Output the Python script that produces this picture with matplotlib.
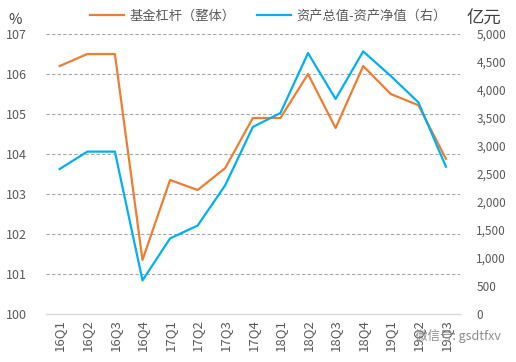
import matplotlib
matplotlib.use("Agg")
import matplotlib.pyplot as plt
import numpy as np

plt.rcParams['font.family'] = ['Noto Sans CJK SC', 'DejaVu Sans']

# -- data --
quarters = ["16Q1", "16Q2", "16Q3", "16Q4", "17Q1", "17Q2", "17Q3", "17Q4",
            "18Q1", "18Q2", "18Q3", "18Q4", "19Q1", "19Q2", "19Q3"]
leverage = [106.2, 106.5, 106.5, 101.35, 103.35, 103.1, 103.65, 104.9,
            104.9, 106.0, 104.65, 106.2, 105.5, 105.22, 103.88]
debt = [2590, 2900, 2900, 600, 1350, 1580, 2300, 3340,
        3590, 4660, 3840, 4690, 4250, 3780, 2630]

ORANGE = "#ED7D31"
BLUE = "#00B0F0"
GREY = "#595959"

fig = plt.figure(figsize=(5.16, 3.62), dpi=100)
ax = fig.add_axes([0.089, 0.1326, 0.802, 0.7734])
ax2 = ax.twinx()

x = np.arange(len(quarters))
l1, = ax.plot(x, leverage, color=ORANGE, lw=1.6, label="基金杠杆（整体）")
l2, = ax2.plot(x, debt, color=BLUE, lw=1.6, label="资产总值-资产净值（右）")

ax.set_xlim(-0.5, len(quarters) - 0.5)
ax.set_ylim(100, 107)
ax2.set_ylim(0, 5000)
ax.set_yticks(range(100, 108))
ax2.set_yticks(range(0, 5001, 500))
ax2.set_yticklabels([f"{v:,}" for v in range(0, 5001, 500)])

ax.set_xticks(x)
ax.set_xticklabels(quarters, rotation=90)

for a in (ax, ax2):
    for s in a.spines.values():
        s.set_visible(False)
    a.tick_params(length=0, labelsize=8.5, colors=GREY)
ax.spines["bottom"].set_visible(True)
ax.spines["bottom"].set_color("#D9D9D9")
ax.spines["bottom"].set_linewidth(1.0)

ax.tick_params(axis="y", pad=14, labelsize=9)
ax.tick_params(axis="x", pad=4, labelsize=9.5)
ax2.tick_params(axis="y", pad=12)

for v in range(101, 108):
    ax.axhline(v, color="#A6A6A6", lw=0.8, ls=(0, (3, 2)), zorder=0)

fig.text(0.016, 0.945, "%", fontsize=10.5, color="#404040", ha="left", va="center")
fig.text(0.905, 0.947, "亿元", fontsize=12.5, color="#404040", ha="left", va="center")

fig.legend(handles=[l1, l2], loc="center", bbox_to_anchor=(0.52, 0.955),
           ncol=2, frameon=False, fontsize=9.5, labelcolor=GREY,
           handlelength=2.6, handletextpad=0.4, columnspacing=1.6)

# watermark sits over the last tick labels, as in the reference
fig.text(0.97, 0.072, "微信号: gsdtfxv", fontsize=9, color="#8C8C8C",
         ha="right", va="center", zorder=5)

plt.savefig("out.png", dpi=100)
plt.close()
